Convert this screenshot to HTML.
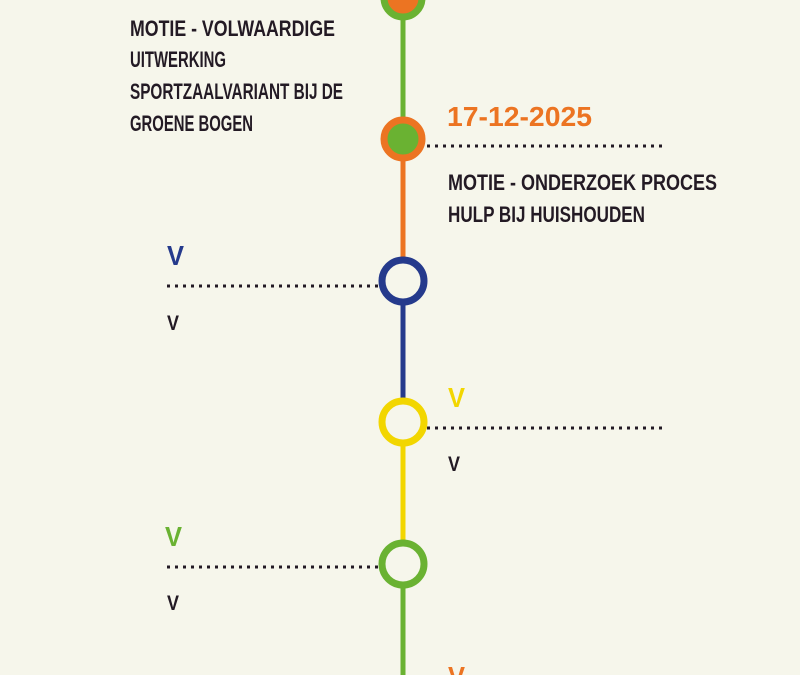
<!DOCTYPE html>
<html><head><meta charset="utf-8"><style>
html,body{margin:0;padding:0;background:#f6f6eb;}
svg{display:block}
text{font-family:"Liberation Sans Narrow","Liberation Sans",sans-serif;font-weight:bold;}
</style></head><body>
<svg width="800" height="675" viewBox="0 0 800 675" xmlns="http://www.w3.org/2000/svg">
<rect width="800" height="675" fill="#f6f6eb"/>
<line x1="403" y1="0" x2="403" y2="139" stroke="#6ab232" stroke-width="5"/>
<line x1="403" y1="139" x2="403" y2="281" stroke="#ec7422" stroke-width="5"/>
<line x1="403" y1="281" x2="403" y2="422" stroke="#253a8c" stroke-width="5"/>
<line x1="403" y1="422" x2="403" y2="564" stroke="#f2d600" stroke-width="5"/>
<line x1="403" y1="564" x2="403" y2="675" stroke="#6ab232" stroke-width="5"/>
<g stroke="#231a24" stroke-width="3" stroke-dasharray="3 5">
<line x1="427" y1="146" x2="662" y2="146"/>
<line x1="167" y1="286" x2="380" y2="286"/>
<line x1="427" y1="428" x2="662" y2="428"/>
<line x1="167" y1="567" x2="380" y2="567"/>
</g>
<circle cx="403" cy="-2" r="19" fill="#ec7422" stroke="#6ab232" stroke-width="7"/>
<circle cx="403" cy="139" r="19" fill="#6ab232" stroke="#ec7422" stroke-width="7"/>
<circle cx="403" cy="281" r="21" fill="#f6f6eb" stroke="#253a8c" stroke-width="7"/>
<circle cx="403" cy="422" r="21" fill="#f6f6eb" stroke="#f2d600" stroke-width="7"/>
<circle cx="403" cy="564" r="21" fill="#f6f6eb" stroke="#6ab232" stroke-width="7"/>
<g fill="#231a24" font-size="22">
<text x="130" y="36" textLength="205" lengthAdjust="spacingAndGlyphs">MOTIE - VOLWAARDIGE</text>
<text x="130" y="67" textLength="96" lengthAdjust="spacingAndGlyphs">UITWERKING</text>
<text x="130" y="99" textLength="213" lengthAdjust="spacingAndGlyphs">SPORTZAALVARIANT BIJ DE</text>
<text x="130" y="131" textLength="123" lengthAdjust="spacingAndGlyphs">GROENE BOGEN</text>
<text x="448" y="190" textLength="269" lengthAdjust="spacingAndGlyphs">MOTIE - ONDERZOEK PROCES</text>
<text x="448" y="222" textLength="197" lengthAdjust="spacingAndGlyphs">HULP BIJ HUISHOUDEN</text>
</g>
<text x="447" y="126" font-size="28" fill="#ec7422" textLength="145" lengthAdjust="spacingAndGlyphs">17-12-2025</text>
<text x="167" y="265" font-size="28" fill="#253a8c" textLength="17" lengthAdjust="spacingAndGlyphs">V</text>
<text x="167" y="330" font-size="21" fill="#231a24" textLength="12" lengthAdjust="spacingAndGlyphs">V</text>
<text x="448" y="407" font-size="28" fill="#f2d600" textLength="17" lengthAdjust="spacingAndGlyphs">V</text>
<text x="448" y="471" font-size="21" fill="#231a24" textLength="12" lengthAdjust="spacingAndGlyphs">V</text>
<text x="165" y="546" font-size="28" fill="#6ab232" textLength="17" lengthAdjust="spacingAndGlyphs">V</text>
<text x="167" y="610" font-size="21" fill="#231a24" textLength="12" lengthAdjust="spacingAndGlyphs">V</text>
<text x="448" y="686" font-size="28" fill="#ec7422" textLength="17" lengthAdjust="spacingAndGlyphs">V</text>
</svg>
</body></html>
